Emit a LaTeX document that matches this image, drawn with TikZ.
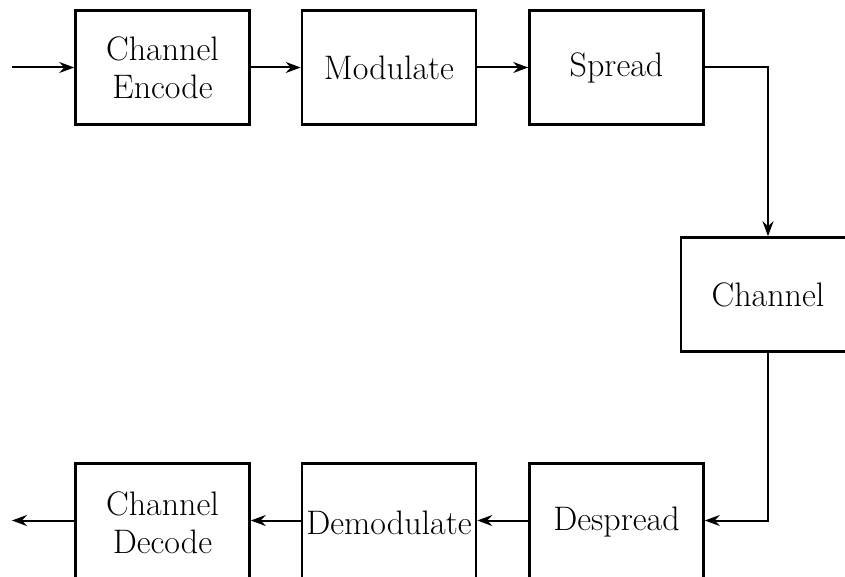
\documentclass[tikz,border=0pt]{standalone}
\usetikzlibrary{arrows.meta}
\begin{document}
\begin{tikzpicture}[x=1pt,y=-1pt,
  box/.style={draw, line width=2.6pt, minimum width=174pt, minimum height=114pt, inner sep=0pt, align=center, font=\fontsize{34}{38}\selectfont},
  conn/.style={line width=2pt, -{Stealth[length=15pt,width=11pt,inset=5pt]}}]
\useasboundingbox (0,0) rectangle (845,577);
\clip (0,0) rectangle (845,577);
\node[box] (enc) at (162.5,67.5) {Channel\\Encode};
\node[box] (mod) at (389,67.5) {Modulate};
\node[box] (spr) at (616.5,67.5) {Spread};
\node[box] (chn) at (768,294.5) {Channel};
\node[box, minimum height=118pt] (dsp) at (616.5,522.5) {Despread};
\node[box, minimum height=118pt] (dem) at (389,522.5) {Demodulate};
\node[box, minimum height=118pt] (dec) at (162.5,522.5) {Channel\\Decode};
\coordinate (in) at (12,67.5);
\coordinate (out) at (12,520.5);
\draw[conn] (in) -- (enc);
\draw[conn] (enc) -- (mod);
\draw[conn] (mod) -- (spr);
\draw[conn] (spr.east) -| (chn.north);
\draw[conn] (chn.south) |- (dsp.east |- 0,520.5);
\draw[conn] (dsp.west |- 0,520.5) -- (dem.east |- 0,520.5);
\draw[conn] (dem.west |- 0,520.5) -- (dec.east |- 0,520.5);
\draw[conn] (dec.west |- 0,520.5) -- (out);
\end{tikzpicture}
\end{document}
